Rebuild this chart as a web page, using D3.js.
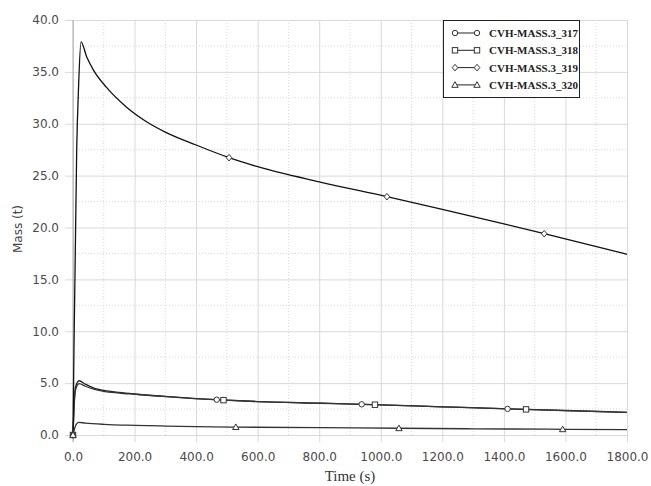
<!DOCTYPE html>
<html><head><meta charset="utf-8">
<script src="https://cdn.jsdelivr.net/npm/d3@7"></script>
<style>body{margin:0;background:#fff}svg{display:block}</style>
</head><body><svg id="c" width="651" height="486"></svg>
<script>
const seriesNames = ["CVH-MASS.3_317","CVH-MASS.3_318","CVH-MASS.3_319","CVH-MASS.3_320"];
const markerTypes = ["circle","square","diamond","triangle"];
const s317 = [[0,0],[3,2.5],[8,4.6],[20,5.23],[40,4.9],[70,4.5],[100,4.3],[150,4.1],[200,3.95],[300,3.72],[467,3.4],[600,3.22],[800,3.07],[938,2.96],[1200,2.72],[1412,2.52],[1600,2.35],[1800,2.19]];
const s318 = [[0,0],[3,2.3],[8,4.3],[20,4.95],[40,4.7],[70,4.4],[100,4.2],[150,4.05],[200,3.93],[300,3.7],[489,3.36],[600,3.22],[800,3.06],[981,2.92],[1200,2.72],[1472,2.47],[1600,2.36],[1800,2.19]];
const s319 = [[0,0],[3,8],[12,27.5],[18,33.5],[26,37.9],[45,36.4],[66,35.2],[109,33.5],[174,31.6],[239,30.2],[300,29.2],[400,27.95],[507,26.73],[600,25.86],[800,24.4],[1020,22.97],[1200,21.75],[1400,20.35],[1531,19.4],[1800,17.42]];
const s320 = [[0,0],[5,0.6],[10,1.0],[18,1.22],[40,1.15],[100,1.03],[200,0.93],[300,0.86],[400,0.8],[529,0.76],[800,0.71],[1059,0.65],[1300,0.6],[1591,0.55],[1800,0.51]];
const markerTimes = [[0,467,938,1412],[0,489,981,1472],[0,507,1020,1531],[0,529,1059,1591]];
const xTicks = [0,200,400,600,800,1000,1200,1400,1600,1800];
const xMinor = [100,300,500,700,900,1100,1300,1500,1700];
const yTicks = [0,5,10,15,20,25,30,35,40];
const yMinor = [2.5,7.5,12.5,17.5,22.5,27.5,32.5,37.5];
const allSeries = [s317,s318,s319,s320];

const svg = d3.select("#c");
const L=73,R=627,T=20,B=435;
const x = d3.scaleLinear().domain([0,1800]).range([L,R]);
const y = d3.scaleLinear().domain([0,40]).range([B,T]);

// minor dotted grid
svg.append("g").selectAll("line").data(xMinor).join("line")
  .attr("x1",d=>x(d)).attr("x2",d=>x(d)).attr("y1",T).attr("y2",B)
  .attr("stroke","#d8d8d8").attr("stroke-dasharray","1,2");
svg.append("g").selectAll("line").data(yMinor).join("line")
  .attr("x1",L).attr("x2",R).attr("y1",d=>y(d)).attr("y2",d=>y(d))
  .attr("stroke","#d8d8d8").attr("stroke-dasharray","1,2");

// axes with gridlines
const font = "DejaVu Sans, sans-serif";
const gx = svg.append("g").attr("transform",`translate(0,${B})`)
  .call(d3.axisBottom(x).tickValues(xTicks).tickFormat(d=>d.toFixed(1)).tickSizeInner(-(B-T)).tickSizeOuter(0).tickPadding(17));
gx.select(".domain").remove();
gx.selectAll(".tick line").attr("y1",7).attr("stroke","#d9d9d9");
gx.selectAll(".tick text").attr("font-family",font).attr("font-size",12).attr("fill","#4a4a4a");

const gy = svg.append("g").attr("transform",`translate(${L},0)`)
  .call(d3.axisLeft(y).tickValues(yTicks).tickFormat(d=>d.toFixed(1)).tickSizeInner(-(R-L)).tickSizeOuter(0).tickPadding(14));
gy.select(".domain").remove();
gy.selectAll(".tick line").attr("x1",-8).attr("stroke","#d9d9d9");
gy.selectAll(".tick text").attr("font-family",font).attr("font-size",12).attr("fill","#4a4a4a");

// left axis line
svg.append("line").attr("x1",L).attr("x2",L).attr("y1",T).attr("y2",B+7).attr("stroke","#aaa");

// axis titles
svg.append("text").attr("x",(L+R)/2).attr("y",481).attr("text-anchor","middle")
  .attr("font-family","Liberation Serif, serif").attr("font-size",15).attr("fill","#333").text("Time (s)");
svg.append("text").attr("transform","translate(22,229) rotate(-90)").attr("text-anchor","middle")
  .attr("font-family",font).attr("font-size",12).attr("fill","#444").text("Mass (t)");

// lines
const line = d3.line().x(d=>x(d[0])).y(d=>y(d[1])).curve(d3.curveMonotoneX);
const lineColors = ["#222","#333","#111","#333"];
allSeries.forEach((s,i)=>{
  svg.append("path").datum(s).attr("d",line).attr("fill","none")
    .attr("stroke",lineColors[i]).attr("stroke-width",1.3).attr("stroke-linejoin","round");
});

function drawMarker(g,type,cx,cy){
  const st = {fill:"#fff",stroke:"#333","stroke-width":1};
  let m;
  if(type==="circle") m=g.append("circle").attr("cx",cx).attr("cy",cy).attr("r",2.7);
  else if(type==="square") m=g.append("rect").attr("x",cx-2.7).attr("y",cy-2.7).attr("width",5.4).attr("height",5.4);
  else if(type==="diamond") m=g.append("path").attr("d",`M${cx},${cy-3.3}L${cx+2.8},${cy}L${cx},${cy+3.3}L${cx-2.8},${cy}Z`);
  else m=g.append("path").attr("d",`M${cx},${cy-3.2}L${cx+3.2},${cy+2.4}L${cx-3.2},${cy+2.4}Z`);
  Object.entries(st).forEach(([k,v])=>m.attr(k,v));
}
function interp(s,t){
  const xs=s.map(d=>d[0]);
  const i=d3.bisectRight(xs,t);
  if(i<=0) return s[0][1];
  if(i>=s.length) return s[s.length-1][1];
  const a=s[i-1],b=s[i];
  return a[1]+(b[1]-a[1])*(t-a[0])/(b[0]-a[0]);
}
const mg = svg.append("g");
allSeries.forEach((s,i)=>{
  markerTimes[i].forEach(t=>drawMarker(mg,markerTypes[i],x(t),y(interp(s,t))));
});

// legend
const lg = svg.append("g");
lg.append("rect").attr("x",443.5).attr("y",20.5).attr("width",136).attr("height",77)
  .attr("fill","#fff").attr("stroke","#222");
seriesNames.forEach((n,i)=>{
  const cy = 33 + i*17.3;
  lg.append("line").attr("x1",455).attr("x2",477).attr("y1",cy).attr("y2",cy).attr("stroke","#222");
  drawMarker(lg,markerTypes[i],455,cy);
  drawMarker(lg,markerTypes[i],477,cy);
  lg.append("text").attr("x",489).attr("y",cy+4).attr("font-family","Liberation Serif, serif")
    .attr("font-weight","bold").attr("font-size",11).attr("fill","#222").text(n);
});
</script></body></html>
